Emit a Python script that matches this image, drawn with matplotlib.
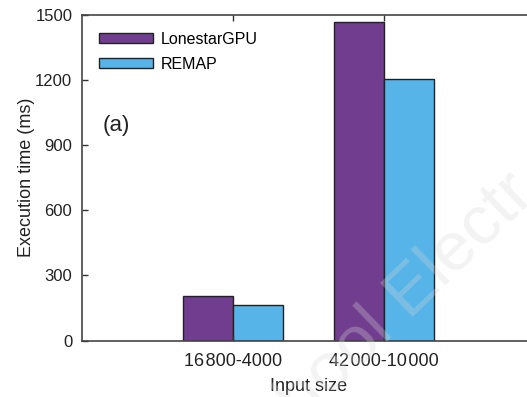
import numpy as np
import matplotlib.pyplot as plt

plt.rcParams['font.family'] = ['Liberation Sans', 'DejaVu Sans']

sizes = ["16\u200a800-4000", "42\u200a000-10\u200a000"]
lonestar = [205, 1468]
remap = [164, 1207]

color_lonestar = "#713d8f"
color_remap = "#56b4e8"
text_color = "#222222"

fig = plt.figure(figsize=(5.27, 3.97), dpi=100)
# axes runs past the right edge of the figure, so the right spine is cut off
ax = fig.add_axes([0.1556, 0.1423, 0.8596, 0.8199])

x = np.arange(1, len(sizes) + 1)
w = 0.33
ax.bar(x - w / 2, lonestar, w, color=color_lonestar, edgecolor="#222222",
       linewidth=1.0, label="LonestarGPU")
ax.bar(x + w / 2, remap, w, color=color_remap, edgecolor="#222222",
       linewidth=1.0, label="REMAP")

ax.set_xlim(0, 3)
ax.set_ylim(0, 1500)
ax.set_yticks(np.arange(0, 1501, 300))
ax.set_xticks(x)
ax.set_xticklabels(sizes, fontsize=13, color=text_color)
ax.tick_params(axis='y', labelsize=12, labelcolor=text_color, direction='in',
               length=4, width=1.0, pad=7, color="#333333")
ax.tick_params(axis='x', direction='in', length=4, width=1.0, pad=9,
               top=True, color="#333333")

for side in ['left', 'bottom', 'top']:
    ax.spines[side].set_color("#444444")
    ax.spines[side].set_linewidth(1.2)
ax.spines['right'].set_visible(False)

ax.set_xlabel("Input size", fontsize=13, color=text_color, labelpad=6)
ax.set_ylabel("Execution time (ms)", fontsize=13, color=text_color, labelpad=0)

ax.legend(loc='upper left', bbox_to_anchor=(0.037, 0.948), frameon=False,
          fontsize=11.5, handlelength=3.4, handleheight=0.6,
          handletextpad=0.5, labelspacing=0.6, borderpad=0, borderaxespad=0)

ax.text(0.046, 0.662, "(a)", transform=ax.transAxes, fontsize=16,
        color=text_color, va='center', ha='left')

# faint semi-transparent watermark across the lower right
fig.text(0.77, 0.25, "hool Electr", fontsize=50, color="#d8d8d8",
         alpha=0.3, rotation=44, ha='center', va='center', zorder=10)

fig.savefig("out.png", dpi=100)
